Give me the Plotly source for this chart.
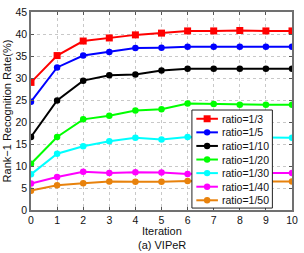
import plotly.graph_objects as go

iterations = [0, 1, 2, 3, 4, 5, 6, 7, 8, 9, 10]
r_1_3  = [29.0, 35.1, 38.4, 39.1, 39.8, 40.2, 40.7, 40.7, 40.8, 40.7, 40.7]
r_1_5  = [24.6, 32.4, 35.1, 35.9, 36.8, 36.9, 37.1, 37.1, 37.1, 37.1, 37.1]
r_1_10 = [16.6, 24.9, 29.4, 30.6, 30.8, 31.7, 32.1, 32.1, 32.1, 32.1, 32.1]
r_1_20 = [10.5, 16.6, 20.6, 21.4, 22.6, 22.9, 24.2, 24.1, 23.9, 23.9, 23.9]
r_1_30 = [8.1, 12.8, 14.5, 15.6, 16.4, 16.0, 16.6, 16.5, 16.5, 16.5, 16.4]
r_1_40 = [6.0, 7.5, 8.7, 8.4, 8.6, 8.5, 8.2, 8.4, 8.4, 8.4, 8.4]
r_1_50 = [4.4, 5.6, 6.1, 6.5, 6.4, 6.4, 6.6, 6.5, 6.5, 6.5, 6.5]

names = ["ratio=1/3", "ratio=1/5", "ratio=1/10", "ratio=1/20",
         "ratio=1/30", "ratio=1/40", "ratio=1/50"]
values = [r_1_3, r_1_5, r_1_10, r_1_20, r_1_30, r_1_40, r_1_50]
colors = ["#ff0000", "#0000ff", "#000000", "#00ff00",
          "#00ffff", "#ff00ff", "#e8820c"]
symbols = ["square", "circle", "circle", "circle", "circle", "circle", "circle"]

W, H = 304, 253
ML, MR, MT, MB = 30, 8, 6, 43
PW, PH = W - ML - MR, H - MT - MB

def px(x):
    return (x - ML) / PW

def py(y):
    return (H - MB - y) / PH

fig = go.Figure()
for name, ys, col, sym in zip(names, values, colors, symbols):
    fig.add_trace(go.Scatter(
        x=iterations, y=ys, name=name, mode="lines+markers",
        line=dict(color=col, width=2),
        marker=dict(color=col, symbol=sym, size=7 if sym == "square" else 6.5),
        showlegend=False,
    ))

FAM = "Liberation Sans, Arial, sans-serif"
font = dict(family=FAM, size=11, color="#111")

shapes = []
annotations = []
# compact legend box
shapes.append(dict(type="rect", xref="paper", yref="paper",
                   x0=px(194), x1=px(276), y0=py(208), y1=py(107),
                   line=dict(color="#222", width=1), fillcolor="white", layer="above"))
for i, (name, col, sym) in enumerate(zip(names, colors, symbols)):
    yy = 116 + i * 14
    shapes.append(dict(type="line", xref="paper", yref="paper",
                       x0=px(198.5), x1=px(220.5), y0=py(yy), y1=py(yy),
                       line=dict(color=col, width=2), layer="above"))
    r = 3.5 if sym == "square" else 3.2
    shapes.append(dict(type="rect" if sym == "square" else "circle",
                       xref="paper", yref="paper",
                       xsizemode="pixel", ysizemode="pixel",
                       xanchor=px(209.5), yanchor=py(yy),
                       x0=-r, x1=r, y0=-r, y1=r,
                       line=dict(color=col, width=0), fillcolor=col, layer="above"))
    annotations.append(dict(xref="paper", yref="paper", x=px(222.5), y=py(yy),
                            xanchor="left", yanchor="middle", text=name,
                            showarrow=False,
                            font=dict(family=FAM, size=10.5, color="#111")))

# x-axis title lines
annotations.append(dict(xref="paper", yref="paper", x=px(163), y=py(232),
                        xanchor="center", yanchor="middle", text="Iteration",
                        showarrow=False, font=font))
annotations.append(dict(xref="paper", yref="paper", x=px(163), y=py(246),
                        xanchor="center", yanchor="middle", text="(a) VIPeR",
                        showarrow=False, font=font))

fig.update_layout(
    width=W, height=H,
    margin=dict(l=ML, r=MR, t=MT, b=MB),
    paper_bgcolor="white", plot_bgcolor="white",
    font=font,
    showlegend=False,
    shapes=shapes,
    annotations=annotations,
)
fig.update_xaxes(
    range=[0, 10], tickmode="linear", tick0=0, dtick=1,
    showgrid=True, gridcolor="#c8c8c8", griddash="dot", gridwidth=1,
    ticks="inside", ticklen=3, tickcolor="#555",
    showline=True, linecolor="#707070", linewidth=1.5, mirror="ticks",
    zeroline=False, ticklabeloverflow="allow",
    tickfont=dict(family=FAM, size=10.5, color="#111"),
)
fig.update_yaxes(
    range=[0, 45], tickmode="linear", tick0=0, dtick=5,
    showgrid=True, gridcolor="#c8c8c8", griddash="dot", gridwidth=1,
    ticks="inside", ticklen=3, tickcolor="#555",
    showline=True, linecolor="#707070", linewidth=1.5, mirror="ticks",
    zeroline=False, ticklabeloverflow="allow",
    tickfont=dict(family=FAM, size=10.5, color="#111"),
    title=dict(text="Rank−1 Recognition Rate(%)", standoff=2, font=font),
)

fig.write_html(
    "out.html",
    config={"displayModeBar": False},
    post_script="document.body.style.margin='0';document.body.style.padding='0';"
                "document.body.style.overflow='hidden';",
)
